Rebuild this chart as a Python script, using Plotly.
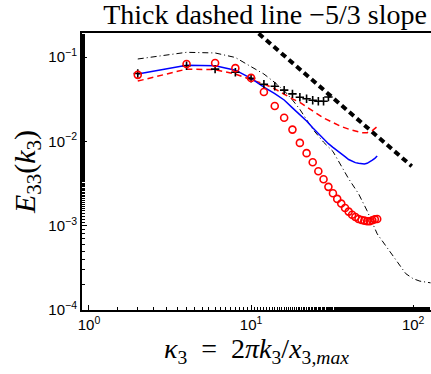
import plotly.graph_objects as go

# ---- data ----
k_even = [2, 4, 6, 8, 10, 12, 14, 16, 18, 20, 22, 24, 26, 28, 30,
          32, 34, 36, 38, 40, 42, 44, 46, 48, 50, 52, 54, 56, 58, 60]
circles_red = [0.0616, 0.083, 0.085, 0.074, 0.0567, 0.0386, 0.0263, 0.0191, 0.0138, 0.0096,
               0.00726, 0.00567, 0.00443, 0.00356, 0.00289, 0.00243, 0.00208, 0.00183, 0.00162, 0.00147,
               0.00135, 0.00127, 0.0012, 0.00117, 0.00115, 0.00113, 0.00113, 0.00116, 0.00119, 0.0012]
blue_solid = [0.063, 0.080, 0.079, 0.070, 0.056, 0.044, 0.037, 0.031, 0.025, 0.021,
              0.0175, 0.0145, 0.0124, 0.0107, 0.0094, 0.0085, 0.0077, 0.0071, 0.0066, 0.0061,
              0.0058, 0.0056, 0.0055, 0.0054, 0.0054, 0.0055, 0.0057, 0.0060, 0.0063, 0.0067]

k_red_dash = [2, 4, 6, 8, 10, 12, 14, 16, 18, 20, 22, 24, 28, 32, 36, 40, 44, 48, 52, 56, 60]
red_dash = [0.052, 0.072, 0.071, 0.063, 0.054, 0.048, 0.042, 0.036, 0.032, 0.029, 0.026, 0.023,
            0.019, 0.0167, 0.015, 0.014, 0.0132, 0.0127, 0.0127, 0.0134, 0.015]

k_plus = [2, 4, 6, 8, 10, 12, 14, 16, 18, 20, 22, 24, 26, 28, 30]
plus_black = [0.064, 0.079, 0.072, 0.066, 0.056, 0.0477, 0.0452, 0.0406, 0.0366, 0.0334,
              0.032, 0.0308, 0.030, 0.030, 0.0337]

k_dashdot = [2, 4, 6, 8, 10, 12, 14, 16, 18, 20, 24, 28, 32, 36, 40, 46, 52, 60,
             70, 80, 90, 100, 110, 120, 128]
dashdot_black = [0.095, 0.114, 0.112, 0.099, 0.077, 0.063, 0.050, 0.040, 0.031, 0.024,
                 0.014, 0.0098, 0.0076, 0.0052, 0.0036, 0.0024, 0.0015, 0.0008,
                 0.00052, 0.00037, 0.00027, 0.000235, 0.00022, 0.000215, 0.00021]

k_slope = [10, 98]
slope_line = [0.228, 0.00508]

x_ticks = [1, 10, 100]
x_ticktext = ["10<sup>0</sup>", "10<sup>1</sup>", "10<sup>2</sup>"]
y_ticks = [1e-4, 1e-3, 1e-2, 1e-1]
y_ticktext = ["10<sup>−4</sup>", "10<sup>−3</sup>", "10<sup>−2</sup>", "10<sup>−1</sup>"]

fig = go.Figure()
fig.add_trace(go.Scatter(x=k_slope, y=slope_line, mode="lines",
                         line=dict(color="black", width=4, dash="6px,4px")))
fig.add_trace(go.Scatter(x=k_dashdot, y=dashdot_black, mode="lines",
                         line=dict(color="black", width=1, dash="6px,3px,1px,3px")))
fig.add_trace(go.Scatter(x=k_red_dash, y=red_dash, mode="lines",
                         line=dict(color="red", width=1.5, dash="6px,4px")))
fig.add_trace(go.Scatter(x=k_even, y=blue_solid, mode="lines",
                         line=dict(color="blue", width=1.5)))
fig.add_trace(go.Scatter(x=k_plus, y=plus_black, mode="markers",
                         marker=dict(symbol="cross-thin-open", size=6, color="black",
                                     line=dict(color="black", width=1.6))))
fig.add_trace(go.Scatter(x=k_even, y=circles_red, mode="markers",
                         marker=dict(symbol="circle-open", size=7, color="red",
                                     line=dict(color="red", width=1.6))))

axis_font = dict(family="Liberation Sans, Arial, sans-serif", size=15, color="black")
serif = "Liberation Serif, serif"
fig.update_layout(
    width=431, height=374,
    margin=dict(l=82, r=0, t=33, b=64),
    paper_bgcolor="white", plot_bgcolor="white",
    showlegend=False,
    title=dict(text="Thick dashed line −5/3 slope", xref="container", x=0.615, xanchor="center",
               yref="container", y=1 - 14 / 374, yanchor="middle",
               font=dict(family=serif, size=28, color="black")),
    xaxis=dict(type="log", range=[-0.043, 2.11], showgrid=False, zeroline=False,
               showline=True, linecolor="black", linewidth=2, mirror=True,
               ticks="inside", ticklen=5, tickcolor="black",
               tickvals=x_ticks, ticktext=x_ticktext, tickfont=axis_font,
               minor=dict(ticks="inside", ticklen=3, tickcolor="black", showgrid=False),
               title=dict(text="<i>κ</i><sub>3</sub>  =  2<i>πk</i><sub>3</sub>/<i>x</i><sub>3,<i>max</i></sub>",
                          font=dict(family=serif, size=28, color="black"),
                          standoff=5)),
    yaxis=dict(type="log", range=[-4, -0.714], showgrid=False, zeroline=False,
               showline=True, linecolor="black", linewidth=2,
               ticks="inside", ticklen=5, tickcolor="black",
               tickvals=y_ticks, ticktext=y_ticktext, tickfont=axis_font,
               minor=dict(ticks="inside", ticklen=3, tickcolor="black", showgrid=False),
               title=dict(text="<i>E</i><sub>33</sub>(<i>k</i><sub>3</sub>)",
                          font=dict(family=serif, size=30, color="black"),
                          standoff=4)),
)
fig.write_html("out.html", config={"displayModeBar": False},
               post_script="document.body.style.margin='0';")
